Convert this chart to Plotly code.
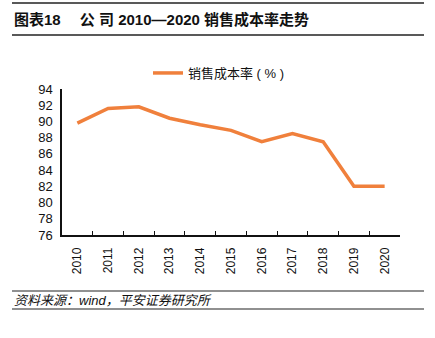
import plotly.graph_objects as go

years = ["2010", "2011", "2012", "2013", "2014", "2015", "2016", "2017", "2018", "2019", "2020"]
cost_rate = [89.8, 91.6, 91.8, 90.4, 89.6, 88.9, 87.5, 88.5, 87.5, 82.0, 82.0]
series_name = "销售成本率 ( % )"
title_text = "图表18　 公 司 2010—2020 销售成本率走势"
source_text = "资料来源：wind，平安证券研究所"

W, H = 435, 338
L, R, T, B = 62, 400, 89, 235

def px_x(x):
    return (x - L) / (R - L)

def px_y(y):
    return (B - y) / (B - T)

FONT = "Arial, 'Liberation Sans', 'Noto Sans CJK SC', sans-serif"

fig = go.Figure()
fig.add_trace(go.Scatter(
    x=years, y=cost_rate, mode="lines", name=series_name,
    line=dict(color="#F0803C", width=3.5),
))

shapes = []
for yy, w in [(3, 1.5), (35, 1.5), (291, 1.2), (309, 1.2)]:
    shapes.append(dict(type="line", xref="paper", yref="paper",
                       x0=px_x(12), x1=px_x(424), y0=px_y(yy), y1=px_y(yy),
                       line=dict(color="#222222", width=w)))

annotations = [
    dict(text="<b>" + title_text + "</b>", xref="paper", yref="paper",
         x=px_x(12), y=px_y(19), xanchor="left", yanchor="middle",
         showarrow=False, font=dict(family=FONT, size=15, color="#111111")),
    dict(text="<i>" + source_text + "</i>", xref="paper", yref="paper",
         x=px_x(12), y=px_y(300), xanchor="left", yanchor="middle",
         showarrow=False, font=dict(family=FONT, size=13, color="#111111")),
]

fig.update_layout(
    width=W, height=H,
    margin=dict(l=L, r=W - R, t=T, b=H - B),
    paper_bgcolor="white", plot_bgcolor="white",
    font=dict(family=FONT, size=12, color="#111111"),
    showlegend=True,
    legend=dict(orientation="h", x=px_x(148), xanchor="left", y=px_y(73), yanchor="middle",
                font=dict(family=FONT, size=13), bgcolor="rgba(0,0,0,0)"),
    shapes=shapes, annotations=annotations,
)
fig.update_xaxes(
    type="category", range=[-0.5, 10.5], showline=True, linecolor="#111111", linewidth=1.5,
    ticks="inside", tickson="boundaries", ticklen=4, tickcolor="#111111",
    tickangle=-90, showgrid=False, zeroline=False, ticklabelstandoff=6,
    tickfont=dict(family=FONT, size=12), mirror=False,
)
fig.update_yaxes(
    range=[76, 94], dtick=2, showline=True, linecolor="#111111", linewidth=1.5,
    ticks="", showgrid=False, zeroline=False, ticklabelstandoff=5,
    tickfont=dict(family=FONT, size=13),
)

fig.write_html("out.html")
